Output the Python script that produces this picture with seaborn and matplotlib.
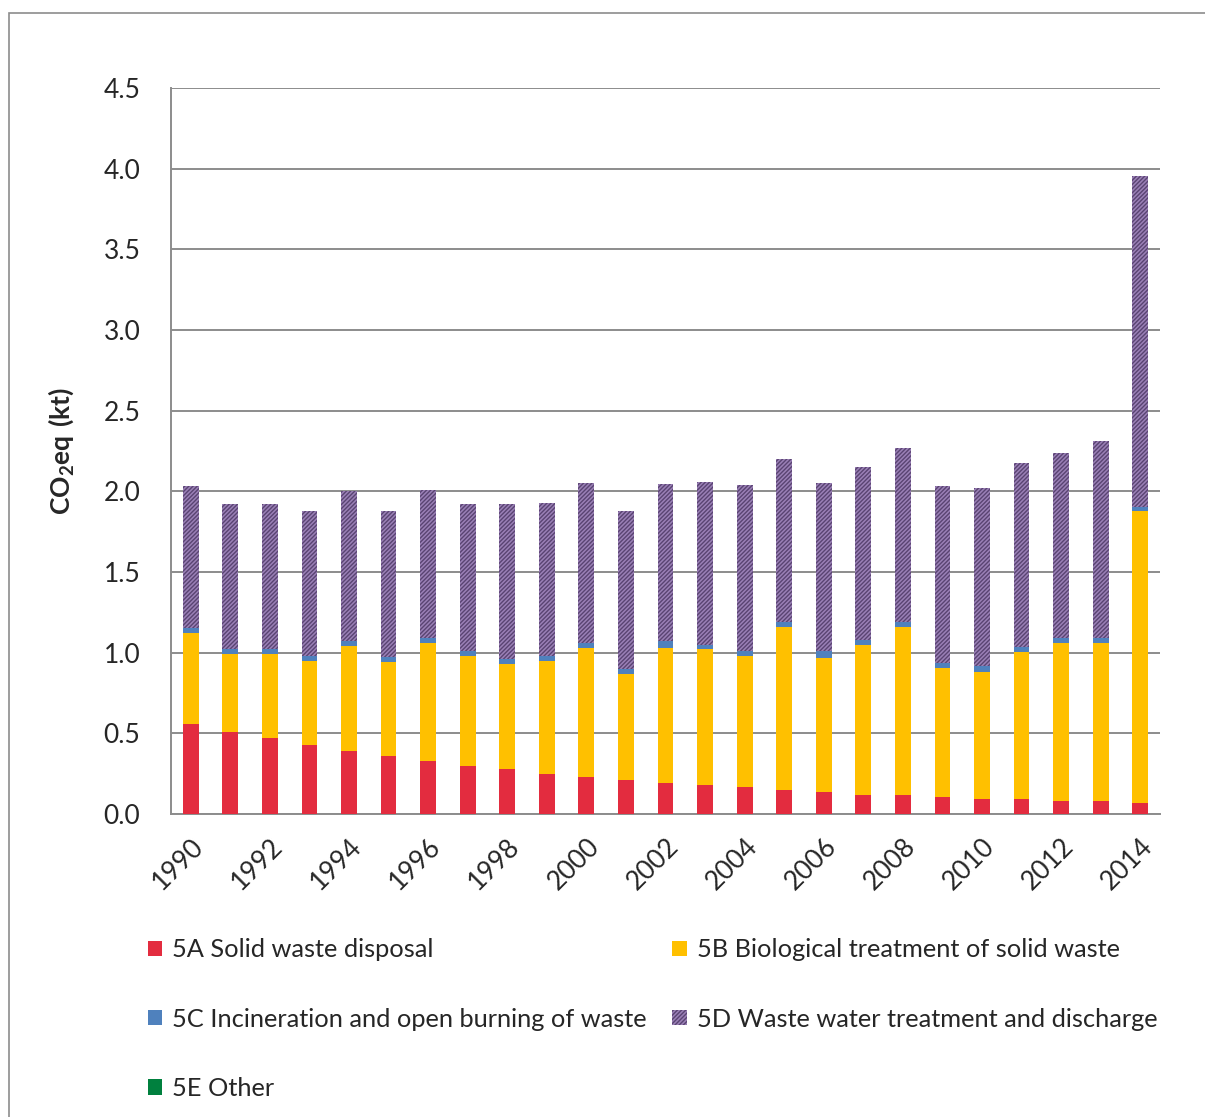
import numpy as np
import pandas as pd
import seaborn as sns
import matplotlib.pyplot as plt
from matplotlib.patches import Patch, Rectangle

years = list(range(1990, 2015))
solid_waste = [0.56, 0.51, 0.47, 0.43, 0.39, 0.36, 0.33, 0.30, 0.28, 0.25,
               0.23, 0.21, 0.19, 0.18, 0.165, 0.15, 0.135, 0.12, 0.12, 0.105,
               0.09, 0.09, 0.08, 0.08, 0.065]
biological = [0.56, 0.48, 0.52, 0.52, 0.65, 0.58, 0.73, 0.68, 0.65, 0.70,
              0.80, 0.66, 0.84, 0.84, 0.815, 1.01, 0.83, 0.93, 1.04, 0.80,
              0.79, 0.915, 0.98, 0.98, 1.81]
incineration = [0.03, 0.03, 0.03, 0.03, 0.03, 0.03, 0.03, 0.03, 0.03, 0.03,
                0.03, 0.03, 0.045, 0.03, 0.03, 0.03, 0.045, 0.03, 0.03, 0.03,
                0.04, 0.03, 0.03, 0.03, 0.03]
waste_water = [0.88, 0.90, 0.90, 0.90, 0.93, 0.91, 0.92, 0.91, 0.96, 0.95,
               0.99, 0.98, 0.97, 1.01, 1.03, 1.01, 1.04, 1.07, 1.08, 1.10,
               1.10, 1.14, 1.15, 1.22, 2.05]
other = [0.0] * 25

labels = ["5A Solid waste disposal", "5B Biological treatment of solid waste",
          "5C Incineration and open burning of waste",
          "5D Waste water treatment and discharge", "5E Other"]
colors = ["#E32C3F", "#FFC000", "#4F81BD", "#9A80B6", "#00803E"]
hatch_c = "#5A4472"

df = pd.DataFrame({"year": [str(y) for y in years], "5A": solid_waste, "5B": biological,
                   "5C": incineration, "5D": waste_water, "5E": other})
# cumulative heights, drawn from the top layer down so the lower ones overlay
df["c5A"] = df["5A"]
df["c5B"] = df["c5A"] + df["5B"]
df["c5C"] = df["c5B"] + df["5C"]
df["c5D"] = df["c5C"] + df["5D"]

sns.set_style("white")
plt.rcParams["font.family"] = ["Lato", "DejaVu Sans"]
plt.rcParams["mathtext.fontset"] = "custom"
plt.rcParams["mathtext.bf"] = "Lato:bold"
plt.rcParams["mathtext.rm"] = "Lato"
plt.rcParams["hatch.linewidth"] = 1.0

fig = plt.figure(figsize=(12.05, 11.17), dpi=100)
ax = fig.add_axes([0.1419, 0.2713, 0.8208, 0.6499])

grid_c = "#8C8C8C"
sns.barplot(data=df, x="year", y="c5D", color=colors[3], width=0.4, ax=ax,
            saturation=1, hatch="////////", edgecolor=hatch_c, linewidth=0, zorder=3)
sns.barplot(data=df, x="year", y="c5C", color=colors[2], width=0.4, ax=ax,
            saturation=1, linewidth=0, zorder=3)
sns.barplot(data=df, x="year", y="c5B", color=colors[1], width=0.4, ax=ax,
            saturation=1, linewidth=0, zorder=3)
sns.barplot(data=df, x="year", y="c5A", color=colors[0], width=0.4, ax=ax,
            saturation=1, linewidth=0, zorder=3)

ax.set_xlim(-0.5, len(years) - 0.5)
ax.set_ylim(0, 4.5)
ax.set_yticks(np.arange(0, 4.51, 0.5))
ax.set_yticklabels([f"{v:.1f}" for v in np.arange(0, 4.51, 0.5)], fontsize=19)
ax.yaxis.grid(True, color=grid_c, linewidth=1.4, zorder=0)
ax.set_axisbelow(True)

ax.set_xticks(range(0, len(years), 2))
ax.set_xticklabels([str(y) for y in years[::2]], rotation=45, ha="right",
                   rotation_mode="anchor", fontsize=19)
ax.set_xticks(np.arange(-0.5, len(years), 1), minor=True)
ax.tick_params(axis="x", which="major", length=0, pad=14)
ax.tick_params(axis="x", which="minor", length=8, width=1.4, color=grid_c)
ax.tick_params(axis="y", length=8, width=1.4, color=grid_c, pad=14)

for s in ["top", "right"]:
    ax.spines[s].set_visible(False)
for s in ["left", "bottom"]:
    ax.spines[s].set_color(grid_c)
    ax.spines[s].set_linewidth(1.4)

ax.set_xlabel("")
ax.set_ylabel(r"$\mathbf{CO_2eq\ (kt)}$", fontsize=19, labelpad=20)

handles = [Patch(facecolor=colors[0], linewidth=0),
           Patch(facecolor=colors[1], linewidth=0),
           Patch(facecolor=colors[2], linewidth=0),
           Patch(facecolor=colors[3], hatch="////////", edgecolor=hatch_c, linewidth=0),
           Patch(facecolor=colors[4], linewidth=0)]
order = [0, 2, 4, 1, 3]
leg = fig.legend([handles[i] for i in order], [labels[i] for i in order],
                 loc="upper left", bbox_to_anchor=(0.1228, 0.1600), ncol=2,
                 frameon=False, fontsize=18.3, handlelength=0.56, handleheight=0.56,
                 handletextpad=0.4, labelspacing=1.82, columnspacing=1.0,
                 borderaxespad=0, borderpad=0)

# outer chart-area border (cut off at right and bottom)
fig.patches.append(Rectangle((9 / 1205, -0.1), 1.2, 1 - 13 / 1117 + 0.1,
                             transform=fig.transFigure, fill=False,
                             edgecolor="#8C8C8C", linewidth=1.2))

fig.savefig("out.png", dpi=100)
